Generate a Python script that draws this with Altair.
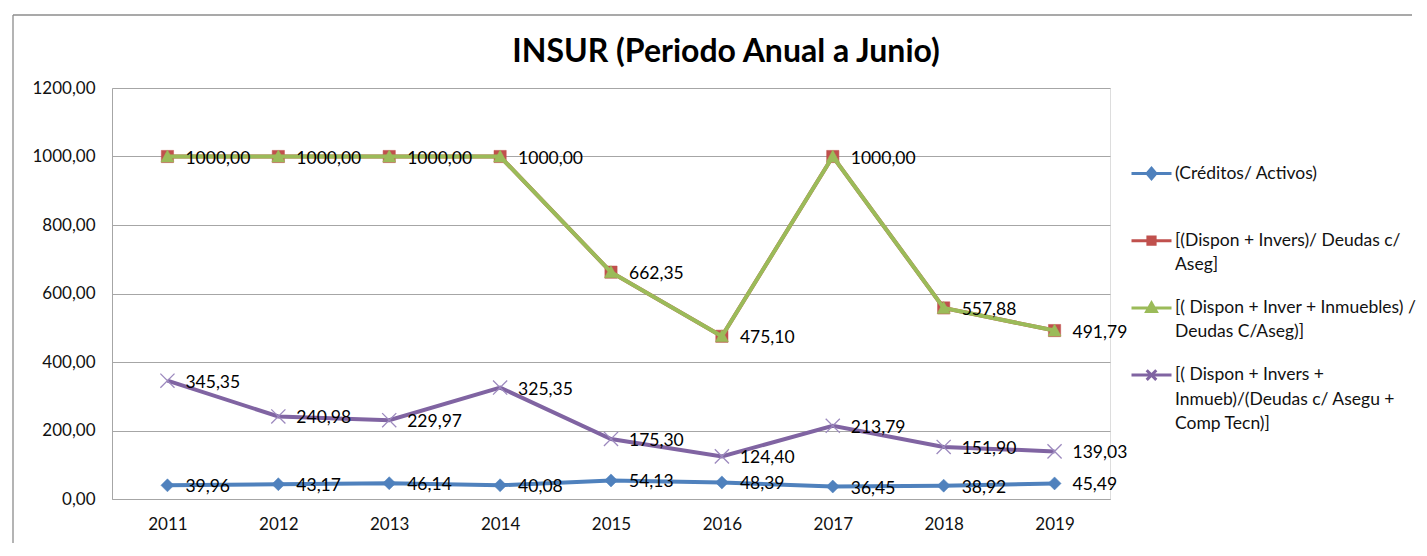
import altair as alt
import pandas as pd

# ---------------- data ----------------
YEARS = ["2011", "2012", "2013", "2014", "2015", "2016", "2017", "2018", "2019"]

CREDITOS_ACTIVOS = [39.96, 43.17, 46.14, 40.08, 54.13, 48.39, 36.45, 38.92, 45.49]
DISPON_INVERS = [1000.00, 1000.00, 1000.00, 1000.00, 662.35, 475.10, 1000.00, 557.88, 491.79]
DISPON_INVER_INMUEBLES = [1000.00, 1000.00, 1000.00, 1000.00, 662.35, 475.10, 1000.00, 557.88, 491.79]
DISPON_INVERS_INMUEB_COMP = [345.35, 240.98, 229.97, 325.35, 175.30, 124.40, 213.79, 151.90, 139.03]

SERIES_LINES = [
    ["(Créditos/ Activos)"],
    ["[(Dispon + Invers)/ Deudas c/", "Aseg]"],
    ["[( Dispon + Inver + Inmuebles) /", "Deudas C/Aseg)]"],
    ["[( Dispon + Invers +", "Inmueb)/(Deudas c/ Asegu +", "Comp Tecn)]"],
]
SERIES = ["|".join(lines) for lines in SERIES_LINES]
VALUES = [CREDITOS_ACTIVOS, DISPON_INVERS, DISPON_INVER_INMUEBLES, DISPON_INVERS_INMUEB_COMP]
COLORS = ["#4F81BD", "#C0504D", "#9BBB59", "#8064A2"]
SHOW_LABELS = [True, True, False, True]

TITLE = "INSUR (Periodo Anual a Junio)"
Y_TICKS = [0, 200, 400, 600, 800, 1000, 1200]

# ---------------- styling ----------------
FONT = "Lato"
GRID = "#A6A6A6"
MARKERS = [
    dict(shape="M-1,0L0,-1L1,0L0,1Z", size=170, filled=True),
    dict(shape="M-1,-1L1,-1L1,1L-1,1Z", size=150, filled=True),
    dict(shape="M0,-1L1,0.85L-1,0.85Z", size=170, filled=True),
    dict(shape="M-1,-1L1,1M-1,1L1,-1", size=200, filled=False),
]
LEGEND_SHAPES = [
    "M-1,0L1,0M-0.22,0L0,-0.26L0.22,0L0,0.26Z",
    "M-1,0L1,0M-0.18,-0.18L0.18,-0.18L0.18,0.18L-0.18,0.18Z",
    "M-1,0L1,0M0,-0.24L0.24,0.18L-0.24,0.18Z",
    "M-1,0L1,0M-0.24,-0.24L0.24,0.24M-0.24,0.24L0.24,-0.24",
]

rows = []
for s, vals in zip(SERIES, VALUES):
    for yr, v in zip(YEARS, vals):
        rows.append({"year": yr, "series": s, "value": v})
df = pd.DataFrame(rows)

legend = alt.Legend(
    title=None,
    orient="none",
    legendX=1018,
    legendY=64,
    padding=0,
    symbolSize=1600,
    symbolStrokeWidth=3,
    symbolOpacity=1,
    labelFont=FONT,
    labelFontSize=17.5,
    labelColor="#111111",
    labelOffset=2,
    labelLimit=400,
    rowPadding=12.2,
    labelExpr="split(indexof(datum.label, '|') < 0 ? datum.label + '|' : datum.label, '|')",
)

x_enc = alt.X(
    "year:O",
    sort=YEARS,
    scale=alt.Scale(type="point", padding=0.5),
    title=None,
    axis=alt.Axis(
        labelAngle=0,
        ticks=False,
        tickSize=0,
        labelPadding=17,
        grid=False,
        domainColor=GRID,
        labelFont=FONT,
        labelFontSize=17,
        labelColor="#111111",
    ),
)
y_enc = alt.Y(
    "value:Q",
    scale=alt.Scale(domain=[0, 1200], nice=False),
    title=None,
    axis=alt.Axis(
        values=Y_TICKS,
        ticks=False,
        tickSize=0,
        labelPadding=17,
        grid=True,
        gridColor=GRID,
        domainColor=GRID,
        labelFont=FONT,
        labelFontSize=17,
        labelColor="#111111",
        labelExpr="replace(format(datum.value, '.2f'), '.', ',')",
    ),
)

base = alt.Chart(df)
layers = []
for i, s in enumerate(SERIES):
    sub = base.transform_filter(alt.datum.series == s)
    layers.append(sub.mark_line(strokeWidth=4, color=COLORS[i]).encode(x=x_enc, y=y_enc))
    m = MARKERS[i]
    if m["filled"]:
        pt = sub.mark_point(shape=m["shape"], size=m["size"], filled=True, fill=COLORS[i],
                            stroke=COLORS[i], strokeWidth=0.5, opacity=1)
    else:
        pt = sub.mark_point(shape=m["shape"], size=m["size"], filled=False, stroke="#9C89BE",
                            strokeWidth=1.3, opacity=1)
    layers.append(pt.encode(x=x_enc, y=y_enc))

# legend-only layer (no rows survive the filter; it only carries the legend)
legend_layer = (
    base.transform_filter("false")
    .mark_point(filled=True, size=1600, strokeWidth=3, opacity=1)
    .encode(
        x=x_enc,
        y=y_enc,
        color=alt.Color("series:N", scale=alt.Scale(domain=SERIES, range=COLORS), legend=legend),
        stroke=alt.Stroke("series:N", scale=alt.Scale(domain=SERIES, range=COLORS), legend=legend),
        shape=alt.Shape("series:N", scale=alt.Scale(domain=SERIES, range=LEGEND_SHAPES), legend=legend),
    )
)
layers.append(legend_layer)

label_series = [s for s, show in zip(SERIES, SHOW_LABELS) if show]
labels = (
    base.transform_filter(alt.FieldOneOfPredicate(field="series", oneOf=label_series))
    .transform_calculate(label="replace(format(datum.value, '.2f'), '.', ',')")
    .mark_text(align="left", baseline="middle", dx=18, dy=2, font=FONT, fontSize=17.5, color="#000000")
    .encode(x=x_enc, y=y_enc, text="label:N")
)
layers.append(labels)

# outer chart-area frame (decoration)
frame_df = pd.DataFrame({"f": [0]})
frame_left = alt.Chart(frame_df).mark_rule(color="#8C8C8C", strokeWidth=1.3).encode(
    x=alt.value(-99), y=alt.value(-73), y2=alt.value(455)
)
frame_top = alt.Chart(frame_df).mark_rule(color="#8C8C8C", strokeWidth=1.3).encode(
    x=alt.value(-99), x2=alt.value(1300), y=alt.value(-73)
)

chart = (
    alt.layer(frame_left, frame_top, *layers)
    .properties(
        width=998,
        height=411,
        padding={"left": 4, "top": 6, "right": 0, "bottom": 0},
        title=alt.Title(
            TITLE,
            font=FONT,
            fontSize=32,
            fontWeight="bold",
            color="#000000",
            anchor="middle",
            baseline="alphabetic",
            dx=115,
            dy=32,
            offset=-47.6,
        ),
    )
    .configure_view(stroke=None)
    .configure(background="white", style={"guide-label": {"lineHeight": 24.5}})
)

chart.save("out.html", embed_options={"renderer": "svg", "actions": False})
